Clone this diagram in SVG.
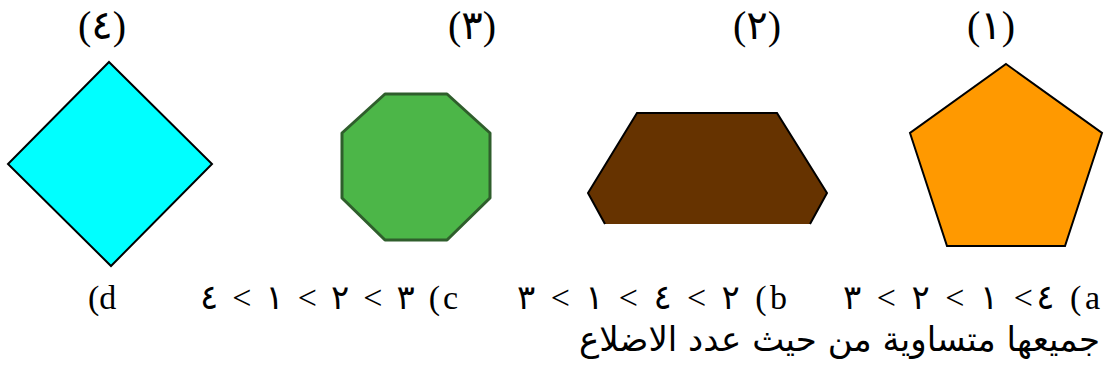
<svg xmlns="http://www.w3.org/2000/svg" width="1105" height="374" viewBox="0 0 1105 374">
<style>
.lbl{font-family:"Liberation Serif","DejaVu Serif","DejaVu Sans",serif;font-size:40px;fill:#000}
.opt{font-family:"Liberation Serif","DejaVu Serif","DejaVu Sans",serif;font-size:34px;fill:#000;direction:ltr;unicode-bidi:bidi-override}
.ar{font-family:"DejaVu Sans","Liberation Sans",sans-serif;font-size:34px;fill:#000}
.edge{stroke:#000;stroke-width:2;stroke-linejoin:miter}
</style>
<rect width="1105" height="374" fill="#fff"/>
<g id="shape4">
<polygon class="edge" points="109,62 212,164 111,266 8,164" fill="#00ffff"/>
<text class="lbl" x="102" y="39" text-anchor="middle">(٤)</text>
</g>
<g id="shape3">
<polygon points="385,94 447,94 490,133 490,198 447,240 385,240 342,198 342,133" fill="#4cb648" stroke="#2f5e2c" stroke-width="3" stroke-linejoin="round"/>
<text class="lbl" x="472" y="39" text-anchor="middle">(٣)</text>
</g>
<g id="shape2">
<polygon points="605,224 588,193 637,113 777,113 827,193 810,224" fill="#663300"/>
<polyline class="edge" points="605,224 588,193 637,113 777,113 827,193 810,224" fill="none"/>
<text class="lbl" x="757" y="39" text-anchor="middle">(٢)</text>
</g>
<g id="shape1">
<polygon class="edge" points="1006,64 1102,133 1065,246 947,246 910,133" fill="#ff9900" stroke-width="2.5"/>
<text class="lbl" x="991" y="39" text-anchor="middle">(١)</text>
</g>
<g id="options">
<text class="opt" x="88" y="309">(d</text>
<text class="opt" x="200" y="309" textLength="258" lengthAdjust="spacing">٤ &lt; ١ &lt; ٢ &lt; ٣ (c</text>
<text class="opt" x="517" y="309" textLength="270" lengthAdjust="spacing">٣ &lt; ١ &lt; ٤ &lt; ٢ (b</text>
<text class="opt" x="843" y="309" textLength="257" lengthAdjust="spacing">٣ &lt; ٢ &lt; ١ &lt;٤ (a</text>
<text class="ar" x="1100" y="351" text-anchor="end">جميعها متساوية من حيث عدد الاضلاع</text>
</g>
</svg>
